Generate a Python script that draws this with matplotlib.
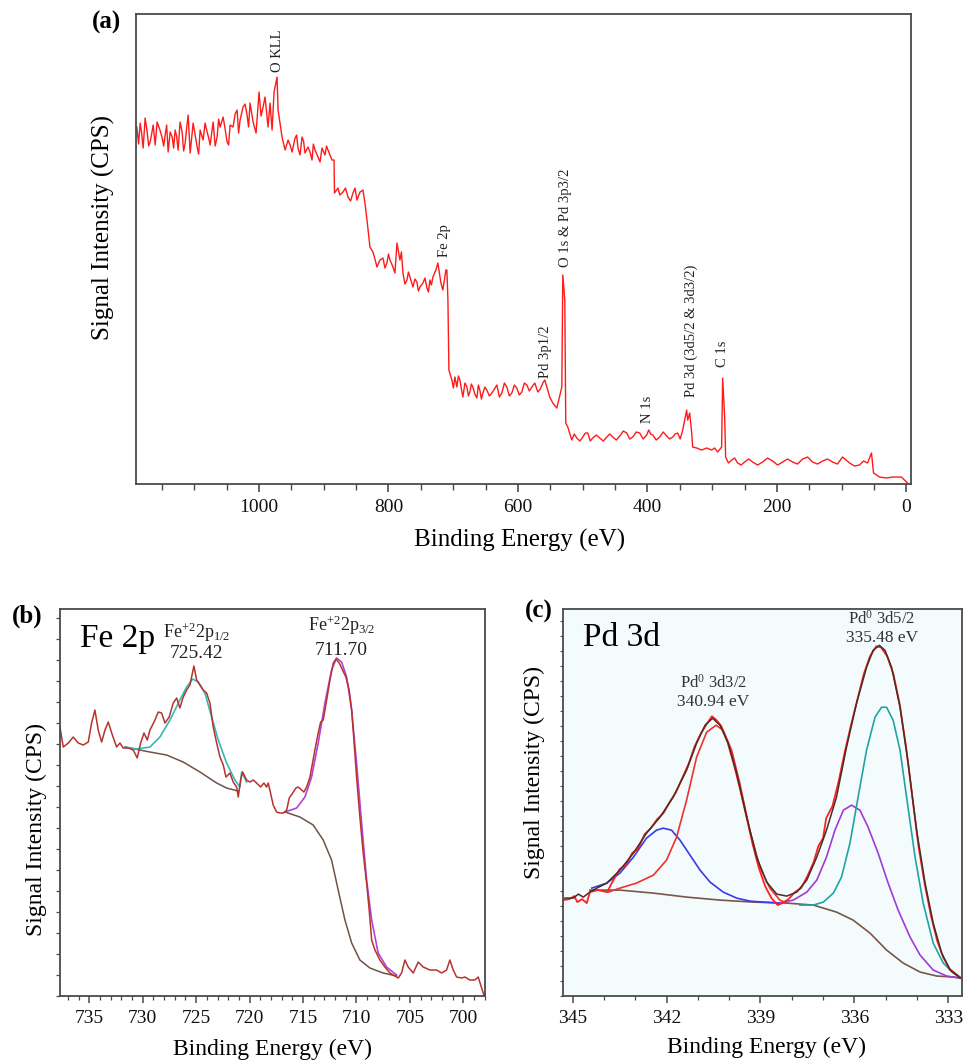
import matplotlib
matplotlib.use("Agg")
import matplotlib.pyplot as plt
from matplotlib.ticker import MultipleLocator, NullFormatter

plt.rcParams['font.family'] = ['Liberation Serif', 'DejaVu Serif']
plt.rcParams['mathtext.fontset'] = 'custom'
plt.rcParams['mathtext.rm'] = 'Liberation Serif'
plt.rcParams['mathtext.it'] = 'Liberation Serif:italic'

# (a) survey spectrum, binding energy (eV) and counts (a.u.)
survey_be = [1188.6, 1183.5, 1178.9, 1172.7, 1168.1, 1163.4, 1157.3, 1149.5, 1144.9, 1140.3,
             1134.1, 1129.5, 1124.9, 1118.7, 1114.0, 1109.4, 1106.3, 1101.7, 1095.5, 1090.9,
             1086.3, 1080.1, 1075.5, 1070.8, 1064.7, 1060.0, 1055.4, 1049.2, 1044.6, 1040.0,
             1033.8, 1029.2, 1024.6, 1018.4, 1013.8, 1009.1, 1004.5, 999.9, 993.7, 990.6,
             986.0, 979.8, 976.7, 972.1, 970.5, 964.4, 959.7, 955.1, 948.9, 944.3,
             939.7, 933.5, 928.9, 924.3, 918.1, 913.5, 908.8, 902.7, 898.0, 893.4,
             887.2, 884.1, 883.4, 878.0, 870.3, 862.5, 854.8, 848.7, 844.0, 839.4,
             836.3, 833.2, 828.6, 824.0, 817.8, 813.2, 808.5, 802.4, 797.7, 793.1,
             786.9, 782.3, 777.7, 771.5, 766.9, 762.2, 756.1, 751.4, 746.8, 740.6,
             736.0, 731.4, 726.8, 723.7, 719.0, 716.0, 711.3, 709.8, 708.2, 706.7,
             702.1, 697.4, 694.4, 689.7, 685.1, 678.9, 674.3, 669.7, 663.5, 658.9,
             654.2, 648.1, 640.3, 632.6, 624.9, 617.2, 609.5, 601.8, 594.1, 586.3,
             578.6, 574.0, 569.4, 561.7, 555.5, 550.9, 546.2, 540.1, 537.0, 532.3,
             530.8, 527.7, 526.2, 523.1, 516.9, 509.2, 499.9, 492.2, 484.5, 473.7,
             462.9, 453.6, 442.8, 432.0, 422.8, 412.0, 401.2, 398.1, 391.9, 381.1,
             370.3, 361.1, 353.3, 345.6, 339.5, 337.9, 334.8, 331.7, 330.2, 324.0,
             316.3, 308.6, 300.9, 296.3, 291.6, 285.5, 283.9, 280.8, 279.3, 270.0,
             260.8, 250.0, 237.6, 222.2, 206.8, 191.3, 175.9, 160.5, 145.0, 129.6,
             114.2, 98.8, 87.9, 72.5, 60.2, 54.0, 50.9, 41.7, 30.9, 21.6,
             7.7, 0.0, -1.5]
survey_cps = [357, 361, 336, 352, 342, 359, 362, 346, 349, 332,
              347, 354, 334, 352, 341, 369, 331, 361, 337, 354,
              344, 352, 339, 362, 347, 357, 367, 342, 359, 357,
              374, 364, 377, 369, 381, 362, 351, 392, 377, 387,
              357, 354, 392, 407, 374, 347, 334, 344, 332, 346,
              336, 347, 331, 337, 324, 334, 327, 336, 329, 334,
              324, 324, 291, 296, 292, 287, 291, 284, 292, 294,
              281, 264, 237, 232, 217, 224, 226, 221, 224, 217,
              241, 224, 211, 204, 207, 197, 202, 197, 201, 196,
              204, 207, 214, 221, 201, 194, 214, 214, 184, 114,
              104, 107, 97, 104, 87, 97, 92, 97, 86, 94,
              91, 94, 91, 99, 91, 97, 91, 96, 92, 99,
              97, 101, 92, 101, 97, 87, 81, 76, 84, 97,
              209, 184, 61, 57, 44, 46, 47, 51, 46, 46,
              47, 47, 48, 51, 47, 51, 49, 54, 49, 47,
              48, 47, 51, 54, 74, 64, 71, 51, 37, 36,
              34, 36, 34, 36, 32, 37, 106, 67, 27, 24,
              21, 22, 22, 22, 23, 22, 22, 25, 22, 23,
              22, 27, 21, 19, 21, 31, 11, 7, 6, 7,
              7, 2, 1]

# extra noise points read between the ones above
survey_be_extra = [1186.0, 1181.2, 1175.8, 1170.4, 1165.8, 1160.3, 1153.4, 1147.2, 1142.6,
                   1137.2, 1131.8, 1127.2, 1121.8, 1116.4, 1111.7, 1098.6, 1093.2, 1083.2,
                   1078.0, 1067.7, 1062.3, 1052.3, 1047.0, 1036.9, 1031.5, 1021.5, 1016.1,
                   996.8, 982.9, 951.9, 941.9, 936.6, 931.2, 921.2, 916.0, 905.7, 895.7,
                   875.0, 866.4, 858.6, 851.7, 820.9, 805.5, 800.0, 790.0, 780.0, 774.6,
                   769.2, 759.2, 753.8, 743.7, 738.3, 733.7,
                   699.8, 692.0, 687.4, 681.9, 676.6, 672.0, 666.6, 661.2, 656.5, 651.1,
                   644.2, 636.5, 628.7, 621.0, 613.3, 605.6, 597.9, 590.2, 582.4, 565.5,
                   558.6,
                   513.0, 504.5, 496.0, 488.3, 479.0, 468.3, 458.2, 448.2, 437.4, 427.4,
                   417.4, 406.6, 395.0, 386.5, 375.7, 365.7, 357.2, 349.5,
                   275.0, 265.4, 255.4, 243.8, 229.9, 214.5, 199.0, 183.6, 168.2, 152.7,
                   137.3, 121.9, 106.5, 93.3, 80.2, 66.3]
survey_cps_extra = [340, 351, 366, 338, 350, 339, 355, 338, 359,
                    352, 336, 348, 362, 333, 356, 349, 330, 361,
                    347, 338, 365, 355, 339, 370, 351, 380, 357,
                    368, 381, 339, 349, 329, 343, 332, 340, 322, 338,
                    289, 296, 283, 296, 225, 216, 230, 211, 232, 200,
                    212, 205, 193, 206, 192, 199,
                    96, 108, 95, 101, 88, 100, 90, 99, 85, 97,
                    88, 95, 87, 101, 88, 99, 89, 101, 93, 95,
                    104,
                    50, 43, 51, 43, 49, 43, 50, 44, 53, 45,
                    52, 45, 50, 44, 52, 45, 50, 45,
                    21, 26, 19, 25, 19, 26, 19, 25, 20, 27,
                    20, 25, 20, 24, 18, 23]

survey_labels = ["O KLL", "Fe 2p", "Pd 3p1/2", "O 1s & Pd 3p3/2", "N 1s",
                 "Pd 3d (3d5/2 & 3d3/2)", "C 1s"]
survey_label_be = [972, 713, 557, 527, 400, 332, 284]
survey_label_cps = [412, 227, 106, 217, 61, 87, 117]

# (b) Fe 2p region
fe_be = [737.74, 737.43, 736.96, 736.50, 736.03, 735.56, 735.09, 734.78, 734.47, 734.16,
         733.84, 733.53, 733.22, 732.90, 732.44, 732.13, 731.82, 731.35, 730.88, 730.51,
         730.19, 729.88, 729.57, 729.32, 728.85, 728.55, 728.23, 727.92, 727.52, 727.14,
         726.82, 726.52, 726.21, 725.89, 725.58, 725.21, 724.95, 724.64, 724.34, 724.02,
         723.71, 723.40, 723.08, 722.77, 722.46, 722.21, 721.84, 721.53, 721.21, 721.06,
         720.84, 720.65, 720.28, 719.97, 719.66, 719.34, 718.97, 718.66, 718.41, 718.26,
         718.10, 717.79, 717.47, 717.16, 716.85, 716.53, 716.29, 715.97, 715.66, 715.45,
         715.13, 714.92, 714.66, 714.35, 713.89, 713.58, 713.35, 713.11, 712.79, 712.48,
         712.17, 711.92, 711.61, 711.30, 710.99, 710.68, 710.45, 710.24, 709.99, 709.68,
         709.37, 709.05, 708.81, 708.58, 708.27, 707.81, 707.34, 706.87, 706.56, 706.09,
         705.78, 705.47, 705.16, 704.69, 704.22, 703.76, 703.13, 702.50, 702.04, 701.57,
         701.26, 700.95, 700.63, 700.16, 699.85, 699.39, 698.92, 698.61, 698.29, 698.05]
fe_cps = [269, 249, 253, 259, 253, 251, 254, 273, 286, 266,
          254, 266, 274, 263, 249, 253, 248, 248, 246, 238,
          253, 263, 256, 266, 276, 284, 283, 273, 279, 293,
          298, 288, 299, 306, 311, 330, 316, 311, 306, 303,
          293, 269, 253, 239, 231, 219, 223, 214, 209, 199,
          216, 224, 216, 214, 216, 213, 209, 213, 209, 213,
          206, 191, 184, 183, 183, 186, 198, 203, 208, 209,
          206, 204, 209, 219, 246, 263, 274, 276, 296, 316,
          333, 337, 333, 326, 319, 306, 286, 256, 219, 179,
          143, 113, 86, 56, 46, 36, 29, 23, 21, 18,
          23, 36, 29, 23, 34, 29, 26, 26, 23, 26,
          36, 26, 19, 18, 19, 16, 16, 19, 8, 0]

fe_bg1_be = [731.66, 729.32, 727.76, 726.21, 724.64, 723.08, 722.15, 721.06]
fe_bg1_cps = [249, 244, 241, 234, 224, 213, 208, 205]
fe_bg2_be = [716.69, 715.29, 714.05, 713.11, 712.33, 711.71, 711.08, 710.45, 709.68,
             708.74, 707.50, 706.25]
fe_bg2_cps = [184, 179, 171, 156, 136, 106, 76, 53, 36, 28, 23, 20]

fe_p12_be = [731.66, 730.57, 729.32, 728.39, 727.45, 726.52, 725.89, 725.33, 724.80,
             724.18, 723.55, 722.93, 722.15, 721.37, 720.90, 720.74, 720.28]
fe_p12_cps = [249, 247, 249, 259, 276, 296, 309, 317, 314, 303, 279, 256, 233, 216,
              209, 224, 214]

fe_p32_be = [716.69, 715.60, 714.82, 714.20, 713.58, 712.95, 712.33, 711.86, 711.39,
             710.92, 710.45, 709.99, 709.52, 709.05, 708.58, 707.97, 707.18, 706.25]
fe_p32_cps = [184, 188, 199, 219, 253, 293, 326, 338, 334, 319, 286, 233, 173, 116,
              76, 43, 29, 21]

# (c) Pd 3d region
pd_be = [345.30, 345.10, 344.95, 344.85, 344.70, 344.55, 344.45, 344.20, 343.90, 343.75,
         343.50, 343.30, 343.10, 342.90, 342.70, 342.50, 342.30, 342.10, 341.90, 341.70,
         341.50, 341.30, 341.10, 340.90, 340.70, 340.55, 340.40, 340.25, 340.05, 339.85,
         339.65, 339.45, 339.25, 339.05, 338.85, 338.65, 338.45, 338.30, 338.10, 337.90,
         337.70, 337.50, 337.30, 337.15, 337.00, 336.90, 336.70, 336.50, 336.30, 336.10,
         335.90, 335.70, 335.50, 335.30, 335.15, 334.95, 334.75, 334.55, 334.35, 334.15,
         333.95, 333.75, 333.55, 333.35, 333.15, 332.95, 332.75, 332.60]
pd_cps = [96, 97, 100, 94, 97, 93, 104, 106, 104, 113,
          127, 131, 143, 148, 162, 168, 177, 183, 194, 204,
          218, 232, 250, 263, 273, 280, 276, 270, 254, 232,
          207, 180, 152, 128, 110, 98, 91, 93, 97, 104,
          108, 120, 134, 150, 158, 178, 190, 215, 245, 272,
          297, 322, 340, 350, 349, 340, 322, 292, 250, 200,
          150, 112, 80, 55, 38, 27, 22, 18]

pd_env_be = [345.25, 344.98, 344.82, 344.66, 344.45, 344.23, 343.91, 343.49, 343.06, 342.64,
             342.21, 341.79, 341.36, 341.04, 340.77, 340.53, 340.29, 340.03, 339.76, 339.44,
             339.12, 338.80, 338.48, 338.16, 337.84, 337.52, 337.20, 336.89, 336.57, 336.25,
             335.93, 335.61, 335.40, 335.20, 335.02, 334.81, 334.54, 334.28, 334.01, 333.74,
             333.48, 333.21, 332.94, 332.62]
pd_env_cps = [98, 98, 102, 99, 104, 108, 113, 126, 143, 163,
              179, 199, 226, 253, 271, 278, 271, 253, 223, 179,
              139, 114, 102, 100, 104, 116, 139, 166, 199, 249,
              293, 329, 346, 351, 346, 329, 289, 233, 166, 113,
              73, 43, 26, 18]

pd_bg_be = [344.45, 343.49, 342.42, 341.36, 340.29, 339.23, 338.16, 337.31, 336.57, 336.04,
            335.50, 334.97, 334.44, 333.90, 333.37, 332.84, 332.63]
pd_bg_cps = [106, 106, 103, 99, 96, 94, 93, 91, 84, 76, 63, 46, 33, 24, 20, 19, 18]

pd_blue_be = [344.39, 343.91, 343.49, 343.06, 342.64, 342.32, 342.11, 341.84, 341.57,
              341.25, 340.93, 340.61, 340.19, 339.76, 339.34, 338.91, 338.38]
pd_blue_cps = [108, 113, 123, 139, 158, 166, 168, 166, 156, 141, 126, 114, 104, 98,
               95, 94, 93]

pd_d32_be = [343.86, 343.49, 342.96, 342.42, 342.00, 341.68, 341.36, 341.04, 340.72,
             340.42, 340.19, 339.92, 339.66, 339.34, 339.02, 338.70, 338.38, 338.16]
pd_d32_cps = [104, 108, 113, 121, 136, 159, 196, 239, 264, 271, 266, 246, 213, 166,
              129, 108, 96, 93]

pd_purple_be = [338.38, 337.95, 337.52, 337.20, 336.89, 336.62, 336.35, 336.09, 335.82,
                335.56, 335.24, 334.92, 334.60, 334.22, 333.90, 333.48, 333.05, 332.63]
pd_purple_cps = [93, 96, 104, 116, 139, 166, 186, 191, 186, 169, 143, 113, 86, 59, 41,
                 26, 20, 18]

pd_d52_be = [337.74, 337.31, 336.99, 336.67, 336.41, 336.14, 335.88, 335.61, 335.34,
             335.13, 334.97, 334.76, 334.54, 334.33, 334.06, 333.80, 333.48, 333.16,
             332.84, 332.62]
pd_d52_cps = [91, 91, 94, 103, 119, 153, 199, 246, 279, 289, 289, 276, 246, 199, 139,
              93, 53, 33, 23, 19]

# merge the survey points into one trace, ordered by energy
survey = sorted(zip(survey_be + survey_be_extra, survey_cps + survey_cps_extra),
                key=lambda p: -p[0])
survey_x = [p[0] for p in survey]
survey_y = [p[1] for p in survey]

fig = plt.figure(figsize=(9.67, 10.64), dpi=100)

spine_col = '#4a4a4a'


def style_axes(ax):
    for s in ax.spines.values():
        s.set_color(spine_col)
        s.set_linewidth(1.3)


# ---- panel (a)
ax1 = fig.add_axes([0.1406, 0.5451, 0.8015, 0.4417])
ax1.plot(survey_x, survey_y, color='#ff1a1a', lw=1.0)
ax1.set_xlim(1190, -7)
ax1.set_ylim(0, 470)
ax1.xaxis.set_major_locator(MultipleLocator(200))
ax1.xaxis.set_minor_locator(MultipleLocator(50))
ax1.set_yticks([])
ax1.tick_params(axis='x', which='major', length=6, width=1.2, colors=spine_col,
                labelcolor='#111111', labelsize=14, pad=5)
ax1.tick_params(axis='x', which='minor', length=4, width=1.0, colors=spine_col)
style_axes(ax1)
for lab, x, y in zip(survey_labels, survey_label_be, survey_label_cps):
    ax1.text(x, y, lab, rotation=90, ha='center', va='bottom', fontsize=10.5, color='#222222')
ax1.set_xlabel('Binding Energy (eV)', fontsize=18)
ax1.xaxis.set_label_coords(0.495, -0.095)
ax1.set_ylabel('Signal Intensity (CPS)', fontsize=18)
ax1.yaxis.set_label_coords(-0.027, 0.545)
fig.text(0.110, 0.979, '(a)', fontsize=18, fontweight='bold', ha='center', va='center')

# ---- panel (b)
ax2 = fig.add_axes([0.0620, 0.0639, 0.4395, 0.3637])
ax2.plot(fe_bg1_be, fe_bg1_cps, color='#6e5446', lw=1.1)
ax2.plot(fe_bg2_be, fe_bg2_cps, color='#6e5446', lw=1.1)
ax2.plot(fe_p12_be, fe_p12_cps, color='#35b8b8', lw=1.2)
ax2.plot(fe_p32_be, fe_p32_cps, color='#b044d4', lw=1.2)
ax2.plot(fe_be, fe_cps, color='#b8322e', lw=1.1)
ax2.set_xlim(737.74, 697.98)
ax2.set_ylim(0, 387)
ax2.xaxis.set_major_locator(MultipleLocator(5))
ax2.xaxis.set_minor_locator(MultipleLocator(1))
ax2.yaxis.set_major_locator(MultipleLocator(21))
ax2.yaxis.set_major_formatter(NullFormatter())
ax2.tick_params(axis='x', which='major', length=5, width=1.1, colors=spine_col,
                labelcolor='#111111', labelsize=14, pad=5)
ax2.tick_params(axis='x', which='minor', length=3, width=0.9, colors=spine_col)
ax2.tick_params(axis='y', which='major', length=3, width=0.9, colors=spine_col)
style_axes(ax2)
ax2.text(735.9, 357, 'Fe 2p', fontsize=24, ha='left', va='center')
ax2.text(724.95, 364, r'Fe$^{+2}$2p$_{1/2}$', fontsize=13, ha='center', va='center',
         color='#222222')
ax2.text(724.95, 343, '725.42', fontsize=14, ha='center', va='center', color='#222222')
ax2.text(711.39, 371, r'Fe$^{+2}$2p$_{3/2}$', fontsize=13, ha='center', va='center',
         color='#222222')
ax2.text(711.39, 346, '711.70', fontsize=14, ha='center', va='center', color='#222222')
ax2.set_xlabel('Binding Energy (eV)', fontsize=17)
ax2.xaxis.set_label_coords(0.5, -0.11)
ax2.set_ylabel('Signal Intensity (CPS)', fontsize=17)
ax2.yaxis.set_label_coords(-0.031, 0.43)
fig.text(0.028, 0.421, '(b)', fontsize=18, fontweight='bold', ha='center', va='center')

# ---- panel (c)
ax3 = fig.add_axes([0.5825, 0.0639, 0.4120, 0.3634])
ax3.set_facecolor('#f4fbfd')
ax3.plot(pd_bg_be, pd_bg_cps, color='#7a5648', lw=1.2)
ax3.plot(pd_blue_be, pd_blue_cps, color='#3a3ae6', lw=1.2)
ax3.plot(pd_d32_be, pd_d32_cps, color='#f03030', lw=1.2)
ax3.plot(pd_purple_be, pd_purple_cps, color='#a23ad4', lw=1.2)
ax3.plot(pd_d52_be, pd_d52_cps, color='#22a3a3', lw=1.2)
ax3.plot(pd_be, pd_cps, color='#ff2020', lw=1.3)
ax3.plot(pd_env_be, pd_env_cps, color='#4a2c22', lw=1.1)
ax3.set_xlim(345.30, 332.57)
ax3.set_ylim(0, 387)
ax3.xaxis.set_major_locator(MultipleLocator(3))
ax3.xaxis.set_minor_locator(MultipleLocator(1))
ax3.yaxis.set_major_locator(MultipleLocator(15))
ax3.yaxis.set_major_formatter(NullFormatter())
ax3.tick_params(axis='x', which='major', length=5, width=1.1, colors=spine_col,
                labelcolor='#111111', labelsize=14, pad=5)
ax3.tick_params(axis='x', which='minor', length=3, width=0.9, colors=spine_col)
ax3.tick_params(axis='y', which='major', length=2.5, width=0.8, colors=spine_col)
style_axes(ax3)
ax3.text(344.67, 359, 'Pd 3d', fontsize=24, ha='left', va='center')
ax3.text(340.5, 314, r'Pd$^{0}$ 3d3/2', fontsize=12, ha='center', va='center', color='#333333')
ax3.text(340.5, 294, '340.94 eV', fontsize=12.5, ha='center', va='center', color='#333333')
ax3.text(335.13, 378, r'Pd$^{0}$ 3d5/2', fontsize=12, ha='center', va='center', color='#333333')
ax3.text(335.13, 358, '335.48 eV', fontsize=12.5, ha='center', va='center', color='#333333')
ax3.set_xlabel('Binding Energy (eV)', fontsize=17)
ax3.xaxis.set_label_coords(0.511, -0.105)
ax3.set_ylabel('Signal Intensity (CPS)', fontsize=17)
ax3.yaxis.set_label_coords(-0.046, 0.577)
fig.text(0.557, 0.425, '(c)', fontsize=18, fontweight='bold', ha='center', va='center')

fig.savefig('out.png', dpi=100)
